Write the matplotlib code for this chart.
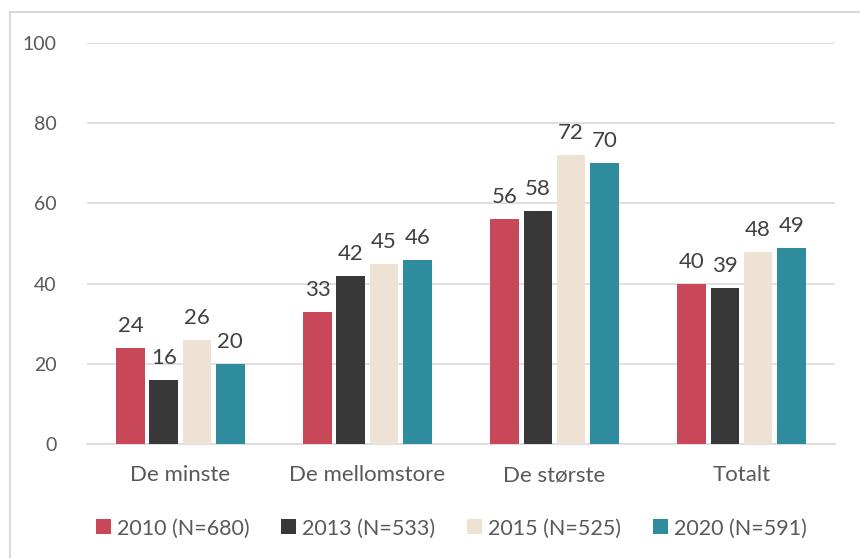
import matplotlib
matplotlib.use("Agg")
import matplotlib.pyplot as plt
from matplotlib.patches import Rectangle
import numpy as np

plt.rcParams['font.family'] = ['Lato', 'DejaVu Sans']

categories = ['De minste', 'De mellomstore', 'De største', 'Totalt']
series_names = ['2010 (N=680)', '2013 (N=533)', '2015 (N=525)', '2020 (N=591)']
v2010 = [24, 33, 56, 40]
v2013 = [16, 42, 58, 39]
v2015 = [26, 45, 72, 48]
v2020 = [20, 46, 70, 49]
values = [v2010, v2013, v2015, v2020]
colors = ['#C8485A', '#383838', '#EDE2D3', '#2E8C9E']

fig = plt.figure(figsize=(8.6, 5.58), dpi=100)
ax = fig.add_axes([0.101, 0.204, 0.870, 0.719])

# chart border (only left/top visible in the reference)
fig.patches.append(Rectangle((10 / 860, -0.1), 1.2, 0.1 + (558 - 12) / 558,
                             transform=fig.transFigure, fill=False,
                             edgecolor='#D9D9D9', linewidth=1.5))

x = np.arange(len(categories))
width = 0.153
step = 0.178
for i, (vals, name, c) in enumerate(zip(values, series_names, colors)):
    pos = x + (i - 1.5) * step
    bars = ax.bar(pos, vals, width, color=c, label=name, zorder=3)
    for b, v in zip(bars, vals):
        ax.text(b.get_x() + b.get_width() / 2, v + 3, str(v),
                ha='center', va='bottom', fontsize=16, color='#404040')

ax.set_xlim(-0.5, 3.5)
ax.set_ylim(0, 100)
ax.set_yticks(range(0, 101, 20))
ax.yaxis.grid(True, color='#D9D9D9', linewidth=1.2, zorder=0)
ax.set_axisbelow(True)
for s in ['top', 'right', 'left']:
    ax.spines[s].set_visible(False)
ax.spines['bottom'].set_color('#D9D9D9')
ax.spines['bottom'].set_linewidth(1.2)
ax.tick_params(axis='y', length=0, labelsize=14, labelcolor='#595959', pad=22)
ax.tick_params(axis='x', length=0, labelsize=16, labelcolor='#595959', pad=15)
ax.set_xticks(x)
ax.set_xticklabels(categories)

ax.legend(loc='center', bbox_to_anchor=(0.487, -0.21), ncol=4, frameon=False,
          fontsize=15.5, labelcolor='#595959', handlelength=0.7, handleheight=0.7,
          handletextpad=0.3, columnspacing=1.45)

fig.savefig('out.png', dpi=100)
